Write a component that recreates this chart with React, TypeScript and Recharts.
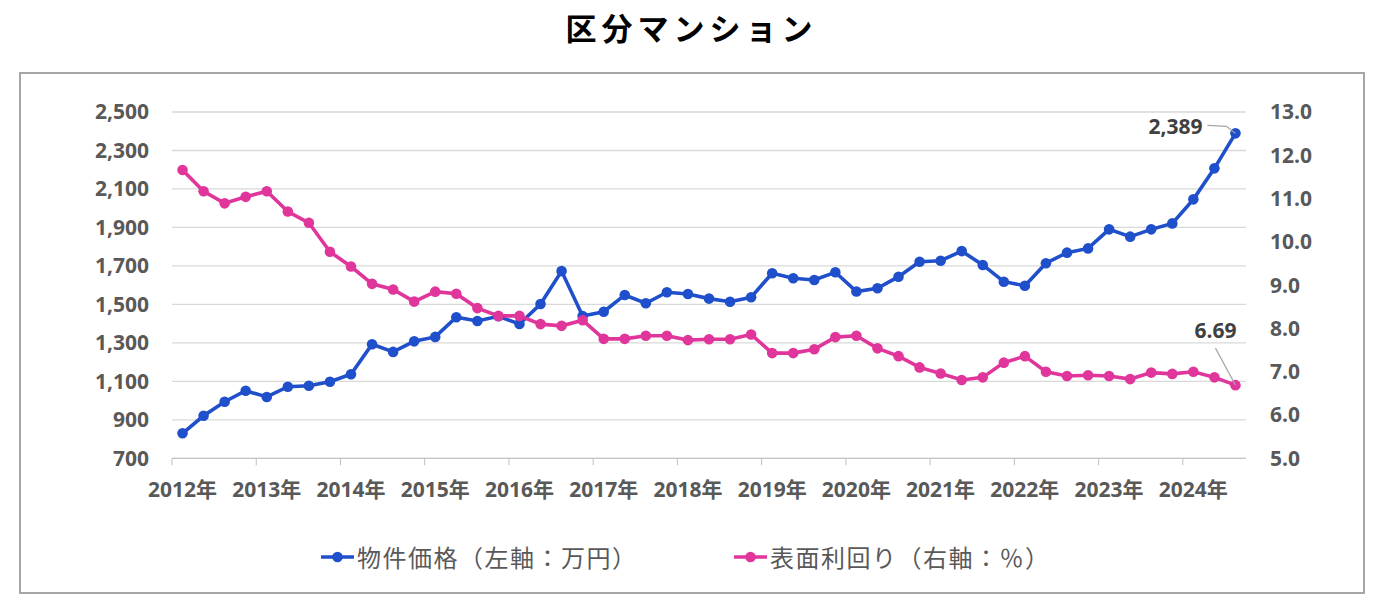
import { LineChart, Line, XAxis, YAxis, CartesianGrid } from 'recharts';

// quarterly periods, 2012Q1 - 2024Q3
const periods = [
  '2012Q1', '2012Q2', '2012Q3', '2012Q4', '2013Q1', '2013Q2', '2013Q3', '2013Q4',
  '2014Q1', '2014Q2', '2014Q3', '2014Q4', '2015Q1', '2015Q2', '2015Q3', '2015Q4',
  '2016Q1', '2016Q2', '2016Q3', '2016Q4', '2017Q1', '2017Q2', '2017Q3', '2017Q4',
  '2018Q1', '2018Q2', '2018Q3', '2018Q4', '2019Q1', '2019Q2', '2019Q3', '2019Q4',
  '2020Q1', '2020Q2', '2020Q3', '2020Q4', '2021Q1', '2021Q2', '2021Q3', '2021Q4',
  '2022Q1', '2022Q2', '2022Q3', '2022Q4', '2023Q1', '2023Q2', '2023Q3', '2023Q4',
  '2024Q1', '2024Q2', '2024Q3',
];

// 物件価格（万円）
const price = [
  830, 921, 994, 1051, 1019, 1072, 1077, 1098, 1137, 1293,
  1253, 1308, 1331, 1433, 1414, 1438, 1398, 1502, 1673, 1440,
  1462, 1549, 1506, 1563, 1554, 1530, 1514, 1537, 1662, 1636,
  1627, 1667, 1567, 1584, 1644, 1722, 1727, 1777, 1705, 1618,
  1597, 1714, 1769, 1791, 1890, 1852, 1890, 1921, 2046, 2207, 2389,
];

// 表面利回り（%）
const yieldPct = [
  11.66, 11.17, 10.89, 11.04, 11.17, 10.7, 10.44, 9.77, 9.43, 9.03,
  8.9, 8.62, 8.85, 8.8, 8.47, 8.29, 8.29, 8.1, 8.06, 8.19,
  7.76, 7.76, 7.83, 7.83, 7.73, 7.75, 7.75, 7.86, 7.43, 7.43,
  7.52, 7.8, 7.83, 7.54, 7.36, 7.1, 6.96, 6.81, 6.87, 7.21,
  7.36, 7.0, 6.9, 6.92, 6.9, 6.83, 6.98, 6.95, 7.0, 6.87, 6.69,
];

const yearTicks = [2012, 2013, 2014, 2015, 2016, 2017, 2018, 2019, 2020, 2021, 2022, 2023, 2024];
const priceTicks = [700, 900, 1100, 1300, 1500, 1700, 1900, 2100, 2300, 2500];
const yieldTicks = [5, 6, 7, 8, 9, 10, 11, 12, 13];

const BLUE = '#1f4fca';
const PINK = '#e0369b';
const AXIS_TEXT = '#595959';
const FONT = "'Open Sans', 'Noto Sans CJK JP', sans-serif";
const JP = "'Noto Sans CJK JP', sans-serif";

// mid-quarter position on a year scale
const toX = (p: string) => Number(p.slice(0, 4)) + (Number(p.slice(5)) - 0.5) / 4;

const data = periods.map((p, i) => ({ t: toX(p), price: price[i], yield: yieldPct[i] }));
const last = periods.length - 1;

function YearTick({ x, y, payload }: any) {
  return (
    <text x={x + 10.5} y={y} dy={15} textAnchor="middle" fill={AXIS_TEXT}
      fontSize={21} fontWeight={700} fontFamily={FONT}>
      {`${payload.value}年`}
    </text>
  );
}

function priceDot(p: any) {
  const { cx, cy, index } = p;
  return (
    <g key={`p-${index}`}>
      <circle cx={cx} cy={cy} r={5.3} fill={BLUE} />
      {index === last && (
        <g>
          <path d={`M${cx - 28},${cy - 8} L${cx - 9},${cy - 7} L${cx},${cy}`}
            stroke="#a6a6a6" strokeWidth={1.2} fill="none" />
          <text x={cx - 33} y={cy + 1} textAnchor="end" fill="#404040"
            fontSize={21} fontWeight={700} fontFamily={FONT}>
            {price[index].toLocaleString('en-US')}
          </text>
        </g>
      )}
    </g>
  );
}

function yieldDot(p: any) {
  const { cx, cy, index } = p;
  return (
    <g key={`y-${index}`}>
      <circle cx={cx} cy={cy} r={5.3} fill={PINK} />
      {index === last && (
        <g>
          <path d={`M${cx - 20},${cy - 37} L${cx},${cy}`}
            stroke="#a6a6a6" strokeWidth={1.2} fill="none" />
          <text x={cx - 20} y={cy - 47} textAnchor="middle" fill="#404040"
            fontSize={21} fontWeight={700} fontFamily={FONT}>
            {yieldPct[index].toFixed(2)}
          </text>
        </g>
      )}
    </g>
  );
}

function LegendItem({ color, label, left }: { color: string; label: string; left: number }) {
  return (
    <div style={{ position: 'absolute', left, top: 543, height: 28, display: 'flex', alignItems: 'center' }}>
      <svg width={36} height={28}>
        <line x1={1} y1={14} x2={34} y2={14} stroke={color} strokeWidth={3.5} />
        <circle cx={17.5} cy={14} r={5.3} fill={color} />
      </svg>
      <span style={{
        fontFamily: JP, fontSize: 24, letterSpacing: 1.5, color: AXIS_TEXT,
        marginLeft: 1, whiteSpace: 'nowrap', lineHeight: '28px',
      }}>
        {label}
      </span>
    </div>
  );
}

export default function App() {
  return (
    <div style={{ position: 'absolute', left: 0, top: 0, width: 1383, height: 606, background: '#fff' }}>
      <div style={{
        position: 'absolute', left: 0, top: 4, width: 1383, textAlign: 'center',
        fontFamily: JP, fontWeight: 700, fontSize: 31, letterSpacing: 5, color: '#000',
      }}>
        区分マンション
      </div>
      <div style={{
        position: 'absolute', left: 19, top: 72, width: 1346, height: 522,
        border: '2px solid #a6a6a6', boxSizing: 'border-box',
      }} />
      <div style={{ position: 'absolute', left: 0, top: 0 }}>
        <LineChart width={1383} height={606} data={data}
          margin={{ top: 112, right: 0, bottom: 0, left: 0 }}>
          <CartesianGrid vertical={false} yAxisId="l" stroke="#d9d9d9" strokeWidth={1.3} />
          <XAxis dataKey="t" type="number" domain={[2012, 2024.75]} ticks={yearTicks}
            interval={0} height={147.7} stroke="#bfbfbf" tickSize={7} tickMargin={17}
            tick={<YearTick />} />
          <YAxis yAxisId="l" width={172} domain={[700, 2500]} ticks={priceTicks}
            axisLine={false} tickLine={false} tickSize={0} tickMargin={23}
            tickFormatter={(v: number) => v.toLocaleString('en-US')}
            tick={{ fill: AXIS_TEXT, fontSize: 21, fontWeight: 700, fontFamily: FONT }} />
          <YAxis yAxisId="r" orientation="right" width={137} domain={[5, 13]} ticks={yieldTicks}
            axisLine={false} tickLine={false} tickSize={0} tickMargin={24}
            tickFormatter={(v: number) => v.toFixed(1)}
            tick={{ fill: AXIS_TEXT, fontSize: 21, fontWeight: 700, fontFamily: FONT }} />
          <Line yAxisId="l" dataKey="price" stroke={BLUE} strokeWidth={3.6}
            dot={priceDot} activeDot={false} isAnimationActive={false} />
          <Line yAxisId="r" dataKey="yield" stroke={PINK} strokeWidth={3.6}
            dot={yieldDot} activeDot={false} isAnimationActive={false} />
        </LineChart>
      </div>
      <LegendItem color={BLUE} label="物件価格（左軸：万円）" left={320} />
      <LegendItem color={PINK} label="表面利回り（右軸：％）" left={733} />
    </div>
  );
}
